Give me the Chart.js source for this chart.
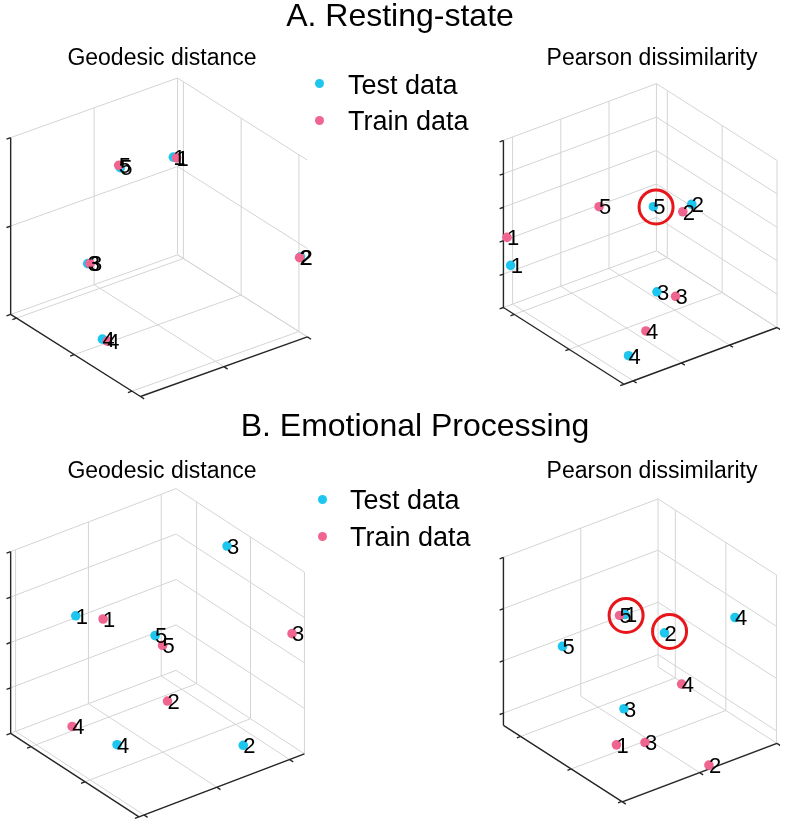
<!DOCTYPE html>
<html>
<head>
<meta charset="utf-8">
<script src="https://cdn.jsdelivr.net/npm/chart.js@4.4.1/dist/chart.umd.min.js"></script>
<style>
  body { margin: 0; background: #fff; }
  #page { position: relative; width: 800px; height: 826px; overflow: hidden; font-family: "Liberation Sans", Arial, sans-serif; color: #000; }
  #page canvas { position: absolute; }
  .txt { position: absolute; white-space: nowrap; }
  .title { font-size: 32px; line-height: 32px; text-align: center; }
  .sub { font-size: 23px; line-height: 23px; text-align: center; width: 300px; }
  .leg { font-size: 27px; line-height: 27px; }
  .dot { position: absolute; width: 9px; height: 9px; border-radius: 50%; }
</style>
</head>
<body>
<div id="page">
  <canvas id="restGeo" width="400" height="413" style="left:0;top:0"></canvas>
  <canvas id="restPear" width="400" height="413" style="left:400px;top:0"></canvas>
  <canvas id="emoGeo" width="400" height="413" style="left:0;top:413px"></canvas>
  <canvas id="emoPear" width="400" height="413" style="left:400px;top:413px"></canvas>

  <div class="txt title" style="left:0;top:-1px;width:800px">A. Resting-state</div>
  <div class="txt title" style="left:15px;top:409px;width:800px">B. Emotional Processing</div>

  <div class="txt sub" style="left:12px;top:46px">Geodesic distance</div>
  <div class="txt sub" style="left:502px;top:46px">Pearson dissimilarity</div>
  <div class="txt sub" style="left:12px;top:459px">Geodesic distance</div>
  <div class="txt sub" style="left:502px;top:459px">Pearson dissimilarity</div>

  <span class="dot" style="left:314.5px;top:78.8px;background:#1cc6ef"></span>
  <span class="dot" style="left:314.5px;top:115.5px;background:#ef6590"></span>
  <div class="txt leg" style="left:348px;top:72px">Test data</div>
  <div class="txt leg" style="left:348px;top:108px">Train data</div>

  <span class="dot" style="left:318px;top:494.8px;background:#1cc6ef"></span>
  <span class="dot" style="left:318px;top:531.5px;background:#ef6590"></span>
  <div class="txt leg" style="left:350px;top:487px">Test data</div>
  <div class="txt leg" style="left:350px;top:524px">Train data</div>
</div>

<script>
const CYAN = '#1cc6ef';
const PINK = '#ef6590';
const RING = '#e8161b';

// point labels (subject number), same order as the point arrays
const testLabels = ['1', '2', '3', '4', '5'];
const trainLabels = ['1', '2', '3', '4', '5'];

// projected positions of the embedded points (panel units)
const restGeoTest  = [[172.7, 156], [303, 258], [85, 265], [100, 342.3], [118.3, 166.7]];
const restGeoTrain = [[176, 156.7], [302, 258.8], [87.3, 265], [105, 344.3], [116.7, 164.3]];
const restPearTest  = [[100.7, 271.7], [302, 204], [263.3, 301], [231.7, 371.7], [259.3, 206.7]];
const restPearTrain = [[96.7, 240.7], [292, 212.3], [284, 306], [251, 344.3], [199, 206.7]];
const emoGeoTest  = [[72.7, 202.7], [244.3, 335.3], [227.7, 131.3], [115, 334.7], [154, 223]];
const emoGeoTrain = [[100.7, 206], [166.7, 290], [294.3, 221], [69, 316], [161.7, 233]];
const emoPearTest  = [[227.7, 201], [271.7, 221.3], [226.7, 305.3], [350, 204.3], [158.3, 236.3]];
const emoPearTrain = [[218.3, 345.3], [321, 367.7], [250, 342.7], [290.7, 278], [221.7, 202]];

// highlighted (circled) positions
const restPearRings = [[262.3, 207]];
const emoPearRings = [[229, 202], [277.3, 219.7]];

// 3-D box of each panel: back-bottom corner, edge vectors, tick fractions
const panels = [
  { id: 'restGeo', test: restGeoTest, train: restGeoTrain, rings: [],
    box: { back: [177, 256], left: [-171, 61], right: [133, 84], height: 181,
           lTicks: [0, 0.5, 1], rTicks: [0.045, 0.49, 0.935], uTicks: [0, 0.5, 1] } },
  { id: 'restPear', test: restPearTest, train: restPearTrain, rings: restPearRings,
    box: { back: [262.7, 255.5], left: [-170, 62.8], right: [134, 85], height: 185,
           lTicks: [0, 0.31, 0.625, 0.94], rTicks: [0.09, 0.545, 1], uTicks: [0, 0.2, 0.4, 0.6, 0.8, 1] } },
  { id: 'emoGeo', test: emoGeoTest, train: emoGeoTrain, rings: [],
    box: { back: [175.5, 258.5], left: [-169.5, 64.5], right: [131.5, 85.5], height: 186,
           lTicks: [0.09, 0.53, 0.97], rTicks: [0.16, 0.58, 1], uTicks: [0, 0.25, 0.5, 0.75, 1] } },
  { id: 'emoPear', test: emoPearTest, train: emoPearTrain, rings: emoPearRings,
    box: { back: [264.5, 259], left: [-171.8, 64.7], right: [132.2, 84.7], height: 186,
           lTicks: [0, 0.5, 1], rTicks: [0.145, 0.57, 0.995], uTicks: [0.073, 0.385, 0.695, 1] } }
];

function seg(out, a, b) {
    out.push({ x: a[0], y: a[1] }, { x: b[0], y: b[1] }, { x: b[0], y: null });
}

// grid planes + the three front axis lines with their tick marks
function boxLines(b) {
    const grid = [], axes = [];
    const P = (l, r, u) => [
        b.back[0] + l * b.left[0] + r * b.right[0],
        b.back[1] + l * b.left[1] + r * b.right[1] - u * b.height
    ];
    b.lTicks.forEach(l => { seg(grid, P(l, 0, 0), P(l, 0, 1)); seg(grid, P(l, 0, 0), P(l, 1, 0)); });
    b.rTicks.forEach(r => { seg(grid, P(0, r, 0), P(0, r, 1)); seg(grid, P(0, r, 0), P(1, r, 0)); });
    b.uTicks.forEach(u => { seg(grid, P(0, 0, u), P(1, 0, u)); seg(grid, P(0, 0, u), P(0, 1, u)); });

    seg(axes, P(1, 0, 0), P(1, 0, 1));
    seg(axes, P(1, 0, 0), P(1, 1, 0));
    seg(axes, P(1, 1, 0), P(0, 1, 0));
    const T = 4.5;
    const ln = Math.hypot(b.left[0], b.left[1]), rn = Math.hypot(b.right[0], b.right[1]);
    const tl = [b.left[0] / ln * T, b.left[1] / ln * T];
    const tr = [b.right[0] / rn * T, b.right[1] / rn * T];
    b.uTicks.forEach(u => { const p = P(1, 0, u); seg(axes, p, [p[0] + tl[0], p[1] + tl[1]]); });
    b.rTicks.forEach(r => { const p = P(1, r, 0); seg(axes, p, [p[0] + tl[0], p[1] + tl[1]]); });
    b.lTicks.forEach(l => { const p = P(l, 1, 0); seg(axes, p, [p[0] + tr[0], p[1] + tr[1]]); });
    return { grid, axes };
}

const toXY = arr => arr.map(p => ({ x: p[0], y: p[1] }));

// draws the subject number to the right of each point
const pointLabels = {
    id: 'pointLabels',
    afterDatasetsDraw(chart) {
        const ctx = chart.ctx;
        ctx.save();
        ctx.font = '22px "Liberation Sans", Arial, sans-serif';
        ctx.fillStyle = '#000';
        ctx.textAlign = 'left';
        ctx.textBaseline = 'alphabetic';
        chart.data.datasets.forEach((ds, i) => {
            if (!ds.pointLabels) return;
            chart.getDatasetMeta(i).data.forEach((el, j) => {
                ctx.fillText(ds.pointLabels[j], el.x, el.y + 7.8);
            });
        });
        ctx.restore();
    }
};

panels.forEach(p => {
    const lines = boxLines(p.box);
    new Chart(document.getElementById(p.id), {
        type: 'scatter',
        data: {
            datasets: [
                { label: 'Rings', data: toXY(p.rings), pointRadius: 17, pointHoverRadius: 17,
                  backgroundColor: 'rgba(0,0,0,0)', borderColor: RING, borderWidth: 3, pointBorderWidth: 3 },
                { label: 'Train data', data: toXY(p.train), pointLabels: trainLabels,
                  pointRadius: 4.8, pointHoverRadius: 4.8, borderWidth: 0, backgroundColor: PINK },
                { label: 'Test data', data: toXY(p.test), pointLabels: testLabels,
                  pointRadius: 4.8, pointHoverRadius: 4.8, borderWidth: 0, backgroundColor: CYAN },
                { type: 'line', label: 'axes', data: lines.axes, borderColor: '#262626', borderWidth: 1.4,
                  pointRadius: 0, spanGaps: false, fill: false },
                { type: 'line', label: 'grid', data: lines.grid, borderColor: '#d4d4d4', borderWidth: 1,
                  pointRadius: 0, spanGaps: false, fill: false }
            ]
        },
        options: {
            responsive: false,
            animation: false,
            events: [],
            layout: { padding: 0 },
            plugins: { legend: { display: false }, tooltip: { enabled: false } },
            scales: {
                x: { type: 'linear', display: false, min: 0, max: 400 },
                y: { type: 'linear', display: false, min: 0, max: 413, reverse: true }
            }
        },
        plugins: [pointLabels]
    });
});
</script>
</body>
</html>
